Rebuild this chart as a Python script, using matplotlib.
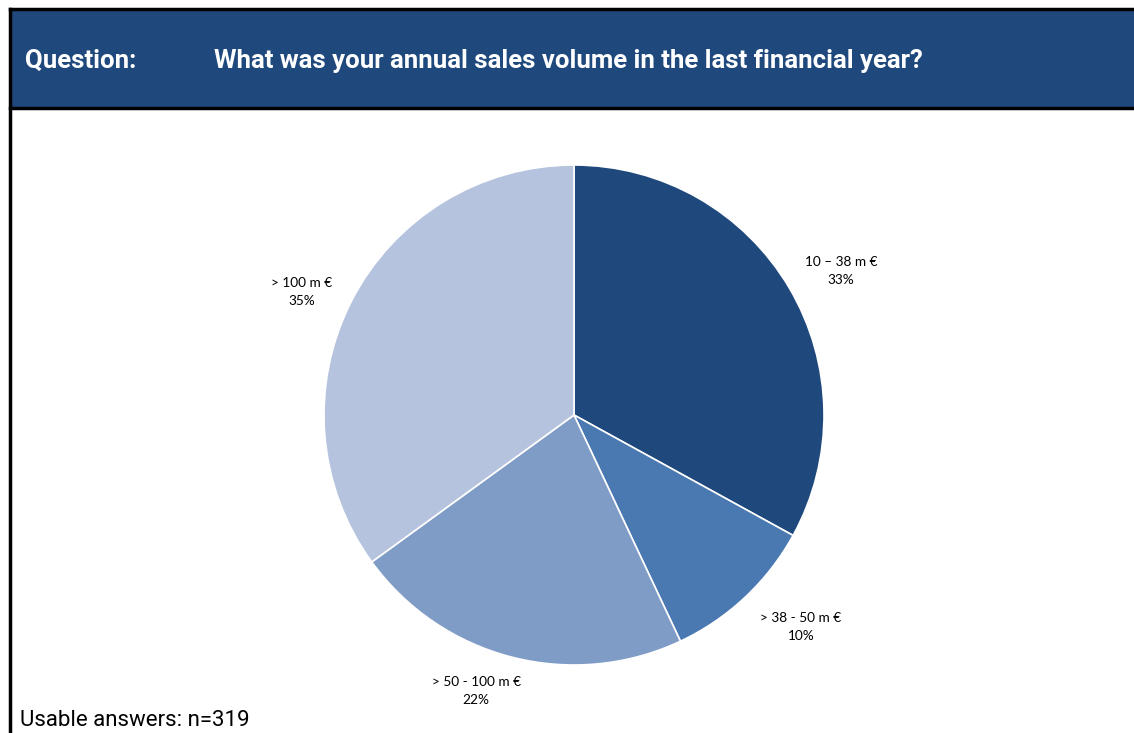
import matplotlib
matplotlib.use("Agg")
import matplotlib.pyplot as plt
from matplotlib.patches import Rectangle
from matplotlib.lines import Line2D

# Survey data
categories = ["10 \u2013 38 m \u20ac", "> 38 - 50 m \u20ac", "> 50 - 100 m \u20ac", "> 100 m \u20ac"]
shares = [33, 10, 22, 35]
colors = ["#1F497D", "#4A78B1", "#7F9CC7", "#B5C3DE"]
question = "What was your annual sales volume in the last financial year?"
note = "Usable answers: n=319"

W, H = 1134, 733
fig = plt.figure(figsize=(W / 100, H / 100), dpi=100)
fig.patch.set_facecolor("white")

header_font = ["Roboto", "DejaVu Sans"]
label_font = ["Lato", "DejaVu Sans"]


def fx(px):
    return px / W


def fy(py):
    return 1 - py / H


# Header bar with frame
fig.patches.append(Rectangle((fx(10), fy(108)), fx(W) - fx(10), fy(9) - fy(108),
                             transform=fig.transFigure, facecolor="#1F497D",
                             edgecolor="none", zorder=0))
lw = 2.5
fig.lines.append(Line2D([fx(10), 1], [fy(9), fy(9)], transform=fig.transFigure,
                        color="black", lw=lw))
fig.lines.append(Line2D([fx(10), 1], [fy(108), fy(108)], transform=fig.transFigure,
                        color="black", lw=lw))
fig.lines.append(Line2D([fx(10), fx(10)], [fy(9), 0], transform=fig.transFigure,
                        color="black", lw=lw))

fig.text(fx(25), fy(61), "Question:", color="white", fontsize=18.5, fontweight="bold",
         family=header_font, ha="left", va="center")
fig.text(fx(214), fy(61), question, color="white", fontsize=18.5, fontweight="bold",
         family=header_font, ha="left", va="center")

fig.text(fx(20), fy(720), note, color="black", fontsize=16, family=header_font,
         ha="left", va="center")

# Pie
cx, cy, r = 574, 415, 250
ax = fig.add_axes([fx(cx - r), fy(cy + r), 2 * r / W, 2 * r / H])
wedges, _ = ax.pie(shares, colors=colors, startangle=90, counterclock=False,
                   wedgeprops=dict(edgecolor="white", linewidth=1.2), radius=1)
ax.set_xlim(-1, 1)
ax.set_ylim(-1, 1)
ax.set_aspect("auto")
ax.axis("off")

# Slice labels
label_pos = [(841, 271), (801, 627), (476, 691), (302, 292)]
for cat, val, (px, py) in zip(categories, shares, label_pos):
    fig.text(fx(px), fy(py), f"{cat}\n{val}%", fontsize=9.8, family=label_font,
             ha="center", va="center", linespacing=1.65, color="black")

fig.savefig("out.png", dpi=100)
